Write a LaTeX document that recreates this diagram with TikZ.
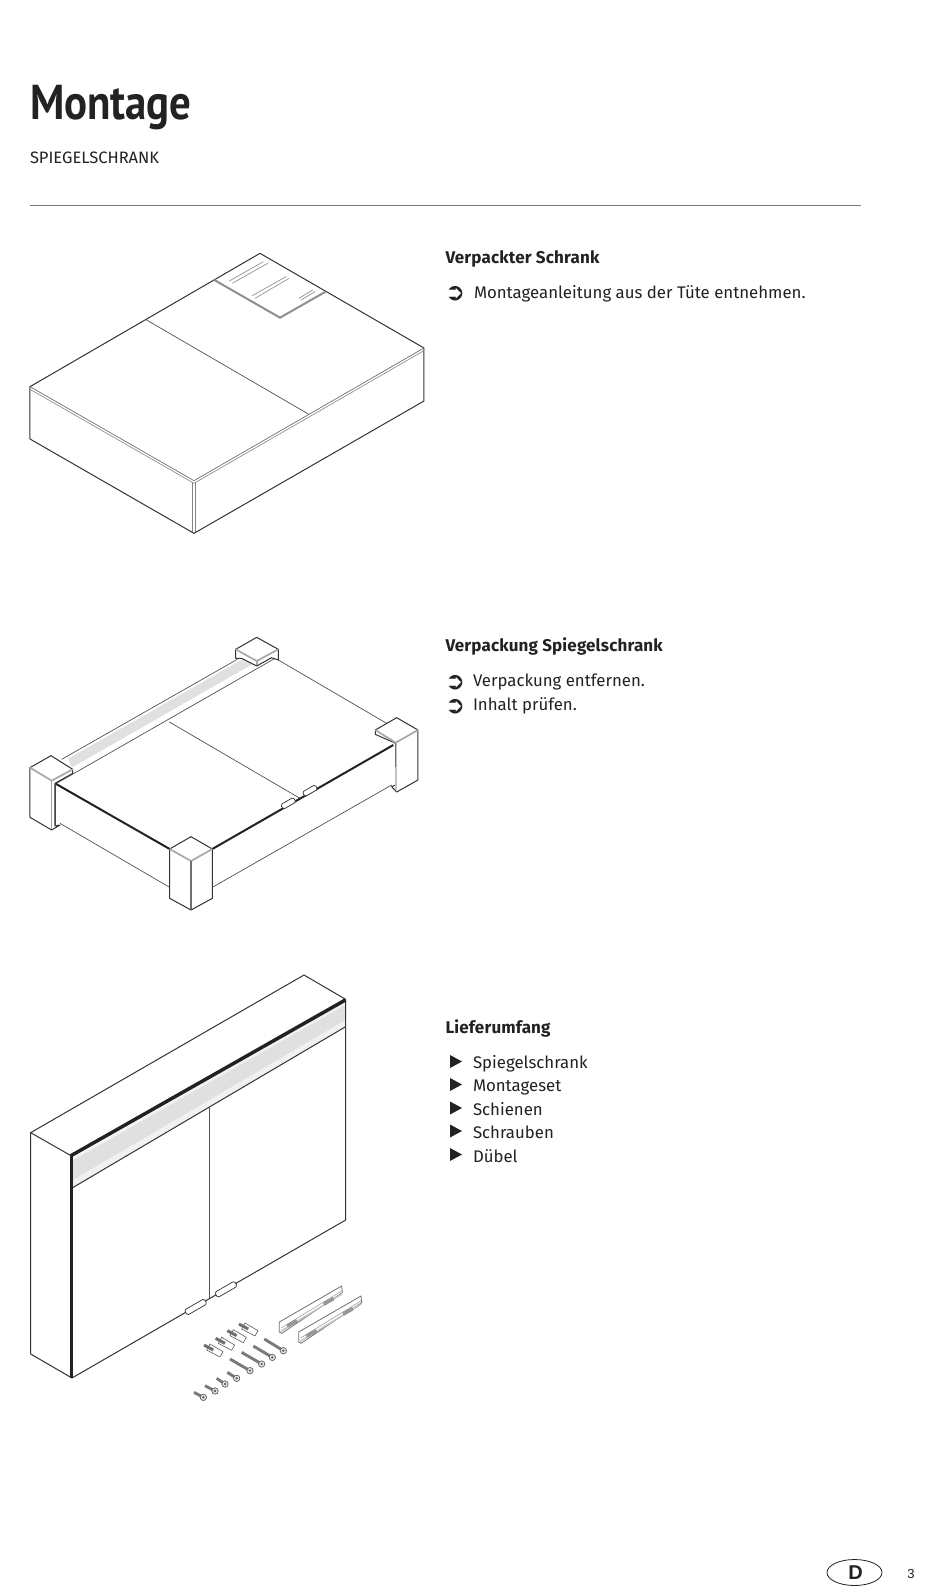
\documentclass[tikz,border=0pt]{standalone}
\usepackage{fontspec}
\usetikzlibrary{shapes.geometric}
\setmainfont{Fira Sans}
\newfontfamily\titlefont{PT Sans}[FakeStretch=0.875]
\newfontfamily\arialfont{Liberation Sans}
\newfontfamily\symfont{DejaVu Sans}
\newfontfamily\bodyfont{Fira Sans}
\newfontfamily\headfont{Fira Sans}[LetterSpace=1.0]
\definecolor{ink}{HTML}{222222}
\definecolor{ln}{HTML}{333333}
\definecolor{edgegray}{HTML}{A8A8A8}
\definecolor{bandgray}{HTML}{E0E0E0}
\definecolor{bandlight}{HTML}{F1F1F1}
\tikzset{
  ol/.style={draw=ln,line width=1pt,line join=round},
  thin ol/.style={draw=ln!85,line width=0.7pt},
  gv/.style={draw=edgegray,line width=1.7pt,line join=round},
  dbl/.style={draw=ln!60,line width=0.6pt},
  heavy/.style={draw=ink,line width=3.5pt},
  txt/.style={anchor=base west,inner sep=0pt,outer sep=0pt,text=ink},
  headtxt/.style={txt,font=\headfont\fontsize{17}{20}\selectfont\bfseries},
  bodytxt/.style={txt,font=\bodyfont\fontsize{16.8}{20}\selectfont},
  arrowtxt/.style={txt,font=\symfont\fontsize{24}{24}\selectfont},
  tri/.style={fill=ink,draw=none},
  rail/.style={draw=ln!70,line width=0.8pt,fill=white,line join=round},
  slot/.style={fill=ln!50,draw=ln!60,line width=0.3pt},
  hinge/.style={draw=ln,line width=0.7pt,fill=white,rounded corners=1.5pt},
}
\newcommand{\bullettri}[2]{\fill[tri] (450,#2-6.5) -- (462,#2) -- (450,#2+6.5) -- cycle;}
\newcommand{\screwpart}[4]{%
  \draw[draw=ln!65,line width=2.9pt] (#1,#2) -- (#3,#4);
  \draw[draw=ln!80,line width=0.7pt,fill=ln!12] (#3,#4) circle (3.2pt);
  \fill[ln!80] (#3,#4) circle (1.3pt);}
\newcommand{\dowelpart}[2]{%
  \begin{scope}[shift={(#1,#2)}]
  \draw[draw=ln!80,line width=0.6pt,fill=white,line join=round] (8,15) -- (48,36) -- (57,20) -- (18,-3) -- cycle;
  \draw[draw=ln!70,line width=3pt] (0,0) -- (28,15);
  \end{scope}}
\begin{document}
\begin{tikzpicture}[x=1pt,y=-1pt]
\useasboundingbox (0,0) rectangle (950,1592);
\fill[white] (0,0) rectangle (950,1592);
% ---- header
\node[txt,font=\titlefont\fontsize{49}{52}\selectfont\bfseries] (title) at (30,120) {Montage};
\node[txt,font=\bodyfont\fontsize{16.5}{20}\selectfont] (sub) at (30,164) {SPIEGELSCHRANK};
\coordinate (ruleL) at (30,205.5);
\coordinate (ruleR) at (861,205.5);
\draw[draw=ln!65,line width=0.9pt] (ruleL) -- (ruleR);
% ---- texts
\node[headtxt] (h1) at (445.5,263.5) {Verpackter Schrank};
\node[arrowtxt] (a1) at (445,300) {➲};
\node[bodytxt] (t1) at (474,298) {Montageanleitung aus der Tüte entnehmen.};
\node[headtxt] (h2) at (445.5,651) {Verpackung Spiegelschrank};
\node[arrowtxt] (a2) at (445,689) {➲};
\node[bodytxt] (t2) at (473,686.5) {Verpackung entfernen.};
\node[arrowtxt] (a3) at (445,713) {➲};
\node[bodytxt] (t3) at (473,710) {Inhalt prüfen.};
\node[headtxt] (h3) at (445.5,1033) {Lieferumfang};
\bullettri{0}{1061.5}
\node[bodytxt] (l1) at (473,1068) {Spiegelschrank};
\bullettri{0}{1084.5}
\node[bodytxt] (l2) at (473,1091) {Montageset};
\bullettri{0}{1108}
\node[bodytxt] (l3) at (473,1115) {Schienen};
\bullettri{0}{1131}
\node[bodytxt] (l4) at (473,1138) {Schrauben};
\bullettri{0}{1154.5}
\node[bodytxt] (l5) at (473,1162) {Dübel};
% ---- footer
\node[draw=ink,line width=0.8pt,ellipse,minimum width=55pt,minimum height=26pt,inner sep=0pt] (badge) at (854.5,1572.5) {};
\node[font=\arialfont\fontsize{20}{20}\selectfont\bfseries,text=ink,inner sep=0pt] (badgeD) at (855.5,1572.5) {D};
\node[font=\arialfont\fontsize{13}{15}\selectfont,text=ink,inner sep=0pt] (pageno) at (911,1574) {3};
% ---- box 1
\begin{scope}[shift={(0,230)},x=0.33333pt,y=-0.33333pt]
\draw[ol] (90,470) -- (780,70) -- (1272,354) -- (1272,513) -- (582,910) -- (90,627) -- cycle;
\draw[ol,draw=ln!70,line width=0.7pt] (90,470) -- (582,752) -- (1272,354);
\draw[dbl] (90,478) -- (582,760) -- (1272,362);
\draw[dbl] (578,756) -- (578,905);
\draw[dbl] (586,756) -- (586,905);
\draw[thin ol] (438,269) -- (925,552);
% label
\draw[draw=ln!55,line width=2pt] (643,150) -- (840,263) -- (977,185);
\draw[dbl] (688,153) -- (790,95);  \draw[dbl] (697,160) -- (803,100);
\draw[dbl] (757,197) -- (858,140); \draw[dbl] (765,205) -- (867,145);
\draw[dbl] (897,205) -- (938,180); \draw[dbl] (903,210) -- (945,185);
\end{scope}
% ---- box 2
\begin{scope}[shift={(0,610)},x=0.33333pt,y=-0.33333pt]
\fill[bandgray] (205,446) -- (750,135) -- (765,158) -- (215,473) -- cycle;
\draw[thin ol] (185,448) -- (712,148);
\draw[thin ol] (170,520) -- (825,145);
\draw[thin ol] (835,150) -- (1160,340);
\draw[thin ol] (508,336) -- (900,565);
\draw[thin ol] (180,640) -- (509,832);
\draw[thin ol] (637,832) -- (1175,525);
\draw[draw=ink,line width=2pt] (165,520) -- (509,717);
\draw[draw=ink,line width=2pt] (637,717) -- (1180,405);
\draw[thin ol] (165,520) -- (165,645);
\draw[hinge,rotate around={30:(865,580)}] (843,572) rectangle (887,588);
\draw[hinge,rotate around={30:(930,542)}] (908,534) rectangle (952,550);
% back block
\draw[ol,fill=white] (770,82) -- (835,118) -- (835,150) -- (815,143) -- (770,168) -- (725,145) -- (707,145) -- (707,118) -- cycle;
\draw[gv] (707,118) -- (770,153) -- (835,118);
\draw[gv] (770,153) -- (770,165);
% left block
\draw[ol,fill=white] (153,437) -- (218,478) -- (218,490) -- (165,520) -- (165,648) -- (180,645) -- (155,660) -- (90,622) -- (90,473) -- cycle;
\draw[gv] (90,473) -- (155,512) -- (218,478);
\draw[draw=ln!45,line width=1.6pt] (155,512) -- (155,658);
% front block
\draw[ol,fill=white] (573,680) -- (637,717) -- (637,865) -- (573,900) -- (509,865) -- (509,717) -- cycle;
\draw[gv] (509,717) -- (573,753) -- (637,717);
\draw[draw=ln!70,line width=1.6pt] (573,753) -- (573,898);
% right block
\draw[ol,fill=white] (1190,323) -- (1254,360) -- (1254,510) -- (1190,546) -- (1175,530) -- (1187,525) -- (1187,400) -- (1126,373) -- (1126,360) -- cycle;
\draw[gv] (1126,360) -- (1187,398) -- (1254,360);
\draw[draw=ln!30,line width=2.2pt] (1187,398) -- (1187,540);
\draw[draw=ln!70,line width=1.2pt] (1187,398) -- (1187,470);
\end{scope}
% ---- cabinet
\begin{scope}[shift={(0,950)},x=0.33333pt,y=-0.33333pt]
\fill[bandlight] (218,625) -- (1036,155) -- (1036,230) -- (218,713) -- cycle;
\fill[bandgray] (218,632) -- (1036,165) -- (1036,210) -- (218,690) -- cycle;
\draw[ol] (213,617) -- (92,548) -- (912,75) -- (1037,148) -- (1037,810) -- (216,1284);
\draw[ol] (92,548) -- (92,1212) -- (216,1284);
\draw[ol] (218,713) -- (1037,230);
\draw[thin ol] (628,470) -- (628,1045);
\draw[heavy] (213,617) -- (1036,150);
\draw[draw=ink,line width=3pt] (214,617) -- (214,1284);
\draw[hinge,rotate around={30:(587,1071)}] (553,1062) rectangle (621,1080);
\draw[hinge,rotate around={30:(678,1018)}] (644,1009) rectangle (712,1027);
\end{scope}
% ---- rails
\begin{scope}[shift={(170,1250)},x=0.33333pt,y=-0.33333pt]
\foreach \dx/\dy in {0/0,58/30}{
  \begin{scope}[shift={(\dx,\dy)}]
  \draw[rail] (328,216) -- (515,108) -- (517,128) -- (335,250) -- (328,246) -- cycle;
  \draw[draw=ln!30,line width=1.4pt] (332,244) -- (516,132);
  \draw[draw=ln!40,line width=0.7pt] (334,234) -- (516,122);
  \fill[slot] (350,224) -- (378,208) -- (382,216) -- (354,232) -- cycle;
  \fill[slot] (460,158) -- (488,142) -- (492,150) -- (464,166) -- cycle;
  \end{scope}
}
\end{scope}
% ---- dowels and screws
\begin{scope}[shift={(185,1315)},x=0.33333pt,y=-0.33333pt]
\dowelpart{162}{27}
\dowelpart{127}{47}
\dowelpart{92}{70}
\dowelpart{57}{90}
\screwpart{238}{72}{295}{107}
\screwpart{205}{93}{262}{127}
\screwpart{170}{112}{230}{147}
\screwpart{135}{132}{195}{167}
\screwpart{127}{172}{155}{190}
\screwpart{95}{190}{120}{207}
\screwpart{60}{212}{90}{228}
\screwpart{27}{232}{55}{247}
\end{scope}
\end{tikzpicture}
\end{document}
